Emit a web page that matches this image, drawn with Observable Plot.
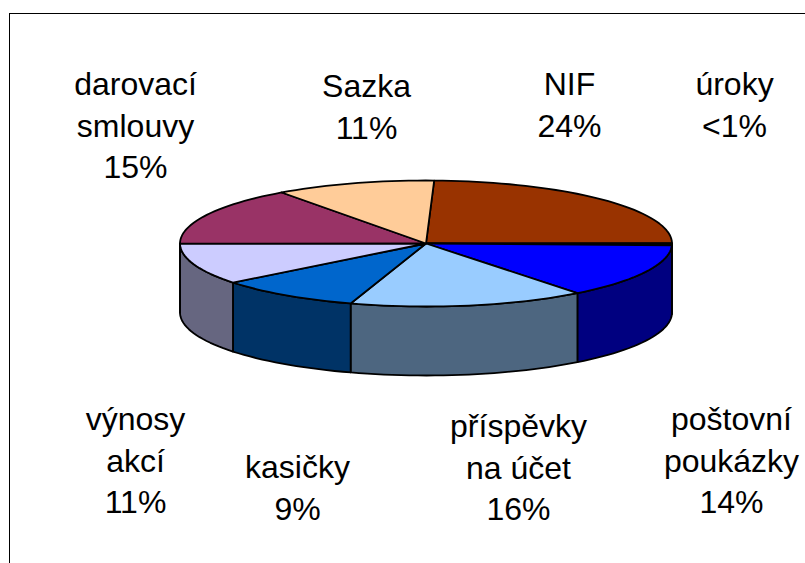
<!DOCTYPE html>
<html>
<head>
<meta charset="utf-8">
<script src="https://cdn.jsdelivr.net/npm/d3@7"></script>
<script src="https://cdn.jsdelivr.net/npm/@observablehq/plot@0.6"></script>
<style>
html,body{margin:0;padding:0;background:#fff;overflow:hidden}
svg{display:block}
</style>
</head>
<body>
<div id="chart"></div>
<script>
// Data, clockwise from the top of the pie
const categories = ["NIF", "úroky", "poštovní\npoukázky", "příspěvky\nna účet", "kasičky", "výnosy\nakcí", "darovací\nsmlouvy", "Sazka"];
const values = [24.4, 0.5, 14, 15.5, 9.4, 10.6, 15.05, 10.5];
const percentLabels = ["24%", "<1%", "14%", "16%", "9%", "11%", "15%", "11%"];
const topColors = ["#993300", "#000000", "#0000FF", "#99CCFF", "#0066CC", "#CCCCFF", "#993366", "#FFCC99"];
const sideColors = ["#4D1A00", "#000000", "#000080", "#4D6680", "#003366", "#666680", "#4D1A33", "#806650"];
// Label placement (block centres)
const labelX = [569, 734, 731, 518, 297, 135, 135, 366];
const labelY = [102, 102, 458, 465, 485, 458, 123, 104];

// Pie geometry
const cx = 425.5, cy = 243, rx = 246, ry = 63, depth = 69, startAngle = 1.9;
const total = d3.sum(values);
const rad = a => a * Math.PI / 180;
const px = a => cx + rx * Math.sin(rad(a));
const py = a => cy - ry * Math.cos(rad(a));

let acc = startAngle;
const slices = values.map((v, i) => {
  const a0 = acc, a1 = acc + v / total * 360;
  acc = a1;
  return {i, a0, a1};
});
const arc = (a0, a1) => {
  const n = Math.max(2, Math.ceil((a1 - a0) / 2));
  return d3.range(n + 1).map(k => a0 + (a1 - a0) * k / n);
};

const sidePts = [], topPts = [];
for (const s of slices) {
  const b0 = Math.max(s.a0, 90), b1 = Math.min(s.a1, 270);
  if (b1 > b0) {
    const as = arc(b0, b1);
    const ring = [
      ...as.map(a => [px(a), py(a)]),
      ...as.slice().reverse().map(a => [px(a), py(a) + depth])
    ];
    ring.push(ring[0]);
    ring.forEach(([x, y]) => sidePts.push({x, y, z: s.i, fill: sideColors[s.i]}));
  }
  const ring = [[cx, cy], ...arc(s.a0, s.a1).map(a => [px(a), py(a)]), [cx, cy]];
  ring.forEach(([x, y]) => topPts.push({x, y, z: s.i, fill: topColors[s.i]}));
}

const labels = categories.map((c, i) => ({
  text: c + "\n" + percentLabels[i], x: labelX[i], y: labelY[i]
}));

const chart = Plot.plot({
  width: 805, height: 563, margin: 0,
  x: {domain: [0, 805], range: [0, 805], axis: null},
  y: {domain: [0, 563], range: [0, 563], axis: null},
  color: {type: "identity"},
  style: {background: "#fff"},
  marks: [
    Plot.ruleY([13], {x1: 9, x2: 805, stroke: "#000", strokeWidth: 1}),
    Plot.ruleX([9], {y1: 13, y2: 563, stroke: "#000", strokeWidth: 1}),
    Plot.line(sidePts, {x: "x", y: "y", z: "z", fill: "fill", stroke: "#000", strokeWidth: 1.8, curve: "linear"}),
    Plot.line(topPts, {x: "x", y: "y", z: "z", fill: "fill", stroke: "#000", strokeWidth: 1.8, curve: "linear"}),
    Plot.text(labels, {
      x: "x", y: "y", text: "text", fill: "#000",
      fontFamily: "Liberation Sans, Arial, sans-serif", fontSize: 32, lineHeight: 1.3,
      textAnchor: "middle", lineAnchor: "middle"
    })
  ]
});
document.getElementById("chart").appendChild(chart);
</script>
</body>
</html>
